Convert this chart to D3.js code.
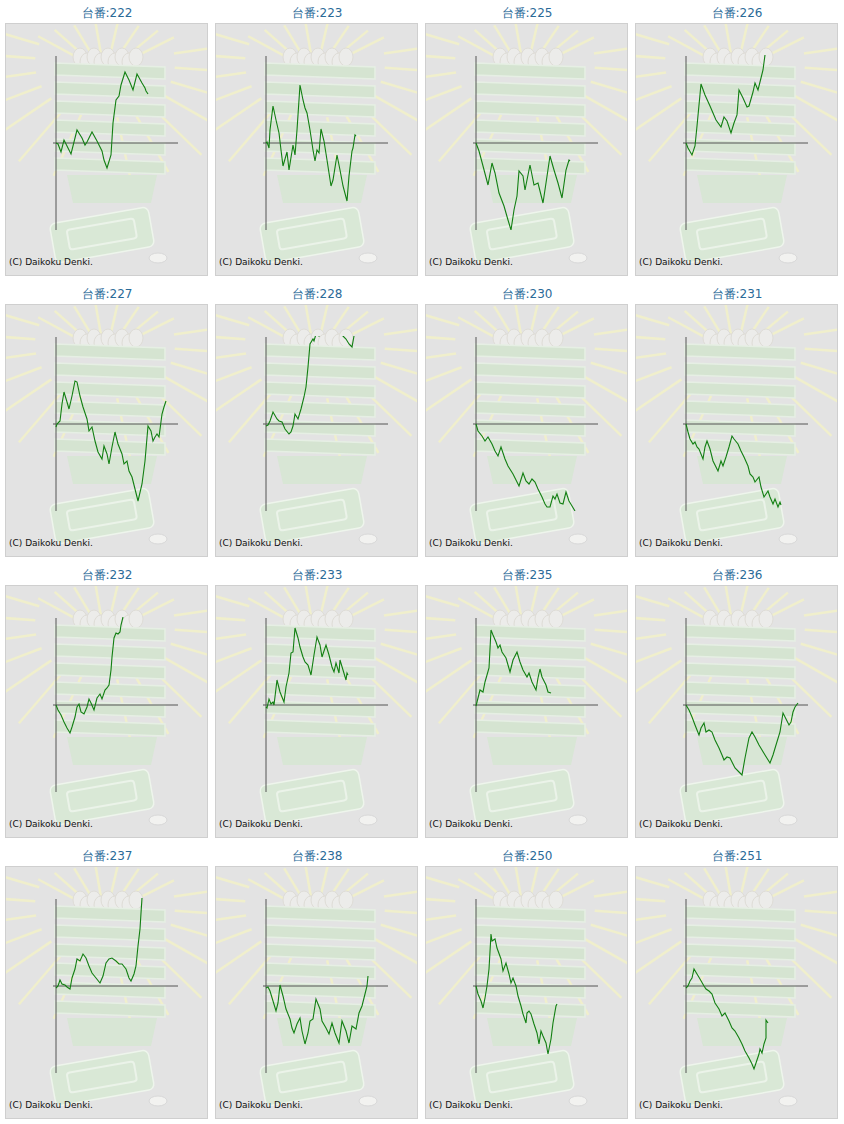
<!DOCTYPE html>
<html>
<head>
<meta charset="utf-8">
<script src="https://cdn.jsdelivr.net/npm/d3@7"></script>
<style>
body{margin:0;background:#fff;font-family:"DejaVu Sans",sans-serif;}
</style>
</head>
<body>
<svg id="chart" width="844" height="1124"></svg>
<script>
// machine numbers, one small chart each
var machines = ["222","223","225","226","227","228","230","231","232","233","235","236","237","238","250","251"]

// each series: [games, difference] (units of the chart scale)
var s222 = [[0,0],[2,-1],[5,-9],[8,3],[11,-3],[15,-11],[21,13],[26,5],[29,-2],[31,1],[36,11],[41,2],[46,-8],[48,-17],[51,-25],[55,-12],[57,20],[60,43],[63,47],[65,58],[69,71],[71,67],[73,63],[77,53],[81,69],[86,60],[89,55],[90,52],[92,49]]
var s223 = [[0,0],[1,1],[3,-5],[4,13],[7,37],[10,23],[13,10],[15,-7],[17,-23],[21,-9],[23,-27],[27,-2],[29,-12],[31,13],[34,58],[37,43],[39,35],[41,30],[44,13],[47,-7],[49,-18],[51,-7],[53,-10],[55,14],[58,2],[61,-17],[65,-43],[67,-37],[71,-12],[74,-27],[77,-43],[81,-58],[83,-33],[86,-8],[87,-5],[89,8],[90,7]]
var s225 = [[0,0],[3,-8],[7,-23],[12,-42],[16,-20],[19,-30],[23,-50],[28,-63],[32,-77],[35,-87],[38,-67],[41,-53],[43,-28],[47,-33],[49,-47],[54,-22],[58,-42],[62,-40],[67,-60],[70,-40],[74,-13],[78,-27],[82,-40],[86,-55],[90,-27],[93,-17],[94,-18]]
var s226 = [[0,0],[2,-5],[6,-12],[9,-3],[11,17],[15,59],[19,48],[24,37],[30,23],[35,16],[38,26],[41,22],[45,10],[48,20],[51,28],[53,53],[57,45],[61,36],[63,37],[67,51],[69,60],[72,53],[75,65],[77,73],[79,88]]
var s227 = [[0,-3],[1,0],[4,3],[6,20],[8,32],[11,22],[13,15],[16,28],[19,43],[21,42],[24,28],[27,17],[31,5],[33,-7],[36,-3],[39,-17],[42,-28],[46,-35],[48,-22],[51,-30],[53,-40],[56,-23],[59,-8],[62,-20],[66,-30],[68,-40],[71,-37],[73,-47],[76,-53],[79,-65],[82,-77],[86,-60],[89,-37],[92,-2],[95,-7],[97,-17],[99,-13],[101,-10],[103,-13],[106,10],[108,17],[110,23]]
var s228 = [[0,-2],[2,-1],[4,3],[7,12],[11,5],[13,3],[16,2],[19,-5],[23,-10],[25,-8],[27,-2],[29,10],[32,5],[35,15],[38,27],[40,37],[42,57],[44,80],[47,85],[48,83],[50,90],[53,88],[55,95],[62,100],[70,97],[73,92],[77,88],[80,85],[83,80],[86,77],[88,88]]
var s230 = [[0,0],[2,-7],[6,-12],[9,-17],[12,-13],[16,-20],[19,-27],[22,-32],[25,-23],[29,-35],[32,-42],[37,-50],[41,-58],[43,-62],[47,-49],[50,-57],[53,-60],[56,-55],[59,-58],[62,-65],[66,-73],[69,-80],[71,-83],[74,-83],[77,-72],[79,-75],[81,-70],[84,-79],[87,-80],[90,-68],[93,-77],[96,-82],[99,-87]]
var s231 = [[0,0],[2,-8],[4,-15],[7,-20],[9,-18],[11,-23],[13,-25],[17,-35],[19,-23],[21,-17],[24,-25],[27,-37],[32,-47],[35,-37],[37,-42],[40,-33],[43,-23],[46,-12],[48,-15],[52,-20],[55,-27],[58,-33],[62,-42],[64,-50],[67,-53],[69,-58],[73,-53],[75,-63],[78,-73],[82,-67],[84,-73],[87,-80],[89,-75],[92,-83],[94,-78],[95,-81]]
var s232 = [[0,0],[2,-5],[5,-10],[8,-17],[11,-23],[14,-28],[16,-22],[19,-12],[21,-2],[23,1],[25,-7],[28,-9],[31,-2],[33,6],[35,2],[38,-5],[41,7],[44,11],[46,6],[49,15],[51,17],[53,20],[55,35],[56,48],[58,67],[60,72],[62,71],[64,73],[65,80],[67,88]]
var s233 = [[0,-2],[1,-3],[3,6],[5,1],[7,3],[8,0],[11,25],[14,13],[18,3],[20,18],[23,32],[25,52],[27,53],[29,77],[32,67],[34,58],[37,48],[39,43],[42,40],[45,30],[48,50],[51,68],[54,60],[56,48],[60,60],[63,50],[66,38],[68,33],[70,42],[73,32],[74,45],[77,35],[80,25],[81,32],[82,30]]
var s235 = [[0,-1],[2,7],[4,15],[7,13],[9,23],[11,30],[13,37],[15,75],[17,70],[20,63],[22,57],[24,60],[26,53],[30,47],[32,40],[34,33],[37,45],[41,53],[44,43],[47,35],[51,28],[53,32],[56,23],[60,15],[62,27],[64,36],[66,28],[70,20],[72,13],[75,12]]
var s236 = [[0,0],[3,-5],[6,-12],[9,-20],[13,-30],[15,-23],[18,-18],[20,-27],[23,-25],[26,-27],[29,-35],[33,-43],[36,-50],[38,-55],[41,-52],[44,-53],[46,-57],[49,-63],[53,-67],[56,-70],[59,-53],[63,-33],[66,-27],[69,-32],[73,-40],[76,-45],[79,-50],[84,-58],[87,-50],[90,-40],[94,-27],[97,-8],[99,-12],[103,-20],[105,-17],[107,-7],[109,-2],[112,2]]
var s237 = [[0,-2],[2,0],[4,6],[6,2],[9,1],[11,-1],[14,-3],[16,8],[19,17],[21,27],[24,25],[27,32],[30,28],[33,20],[36,13],[40,8],[44,3],[47,10],[50,23],[53,27],[56,28],[60,25],[63,22],[66,22],[70,17],[73,8],[75,5],[78,12],[80,20],[82,40],[84,57],[85,73],[86,88]]
var s238 = [[0,-2],[2,-1],[4,-5],[7,-15],[10,-25],[12,-17],[14,1],[17,-10],[20,-23],[24,-33],[26,-42],[28,-47],[31,-38],[34,-32],[36,-45],[39,-58],[42,-47],[44,-35],[47,-33],[50,-13],[54,-23],[56,-35],[60,-42],[63,-48],[66,-37],[69,-47],[73,-57],[76,-35],[80,-45],[83,-57],[86,-40],[90,-43],[93,-27],[96,-20],[99,-8],[101,0],[102,10]]
var s250 = [[0,0],[2,-8],[5,-15],[7,-22],[9,-12],[11,0],[13,17],[15,52],[16,45],[19,47],[21,38],[25,27],[27,15],[30,23],[33,12],[35,3],[37,8],[40,0],[42,-10],[45,-20],[47,-28],[50,-37],[51,-27],[53,-25],[55,-28],[58,-38],[61,-47],[63,-58],[65,-45],[67,-50],[70,-57],[72,-68],[75,-53],[77,-37],[80,-20],[81,-18]]
var s251 = [[0,-2],[2,0],[4,5],[6,8],[8,17],[11,12],[14,7],[18,0],[20,-3],[23,-5],[26,-8],[29,-17],[33,-23],[36,-30],[39,-27],[43,-35],[46,-42],[49,-45],[53,-52],[56,-58],[59,-65],[63,-72],[66,-78],[68,-83],[70,-77],[73,-68],[74,-63],[76,-67],[78,-58],[80,-52],[80,-34],[82,-37]]

var series = [s222,s223,s225,s226,s227,s228,s230,s231,s232,s233,s235,s236,s237,s238,s250,s251]

var svg = d3.select("#chart")
var defs = svg.append("defs")
defs.append("clipPath").attr("id","boxclip")
	.append("rect").attr("x",1).attr("y",1).attr("width",201).attr("height",251)
defs.append("clipPath").attr("id","plotclip")
	.append("rect").attr("x",40).attr("y",32).attr("width",140).attr("height",175)

var x = d3.scaleLinear().domain([0,122]).range([51,173])
var y = d3.scaleLinear().domain([-87,87]).range([207,33])

var line = d3.line().x(function(d){return x(d[0])}).y(function(d){return y(d[1])})

function drawBackground(g){
	var bg = g.append("g").attr("clip-path","url(#boxclip)")
	bg.append("rect").attr("x",1).attr("y",1).attr("width",201).attr("height",251).attr("fill","#e3e3e3")
	// rays
	var cx = 100, cy = 40
	d3.range(-80, 260, 15).forEach(function(a){
		var r = a*Math.PI/180
		if (a > 20 && a < 160) return
		bg.append("line")
			.attr("x1", cx+Math.cos(r)*70).attr("y1", cy-Math.sin(r)*55)
			.attr("x2", cx+Math.cos(r)*150).attr("y2", cy-Math.sin(r)*120)
			.attr("stroke","#f0efcc").attr("stroke-width",2.5)
	})
	d3.range(40, 150, 14).forEach(function(a){
		var r = a*Math.PI/180
		bg.append("line")
			.attr("x1", cx+Math.cos(r)*40).attr("y1", cy-Math.sin(r)*10)
			.attr("x2", cx+Math.cos(r)*90).attr("y2", cy-Math.sin(r)*40)
			.attr("stroke","#f0efcc").attr("stroke-width",2.5)
	})
	// coin pile
	d3.range(0,9).forEach(function(i){
		bg.append("ellipse").attr("cx",75+i*7).attr("cy",34+(i%2)*5).attr("rx",7).attr("ry",9)
			.attr("fill","#ececea").attr("stroke","#dedcd6")
	})
	// stacked trays
	d3.range(0,6).forEach(function(i){
		bg.append("path")
			.attr("d","M50," + (40+i*19) + " L160," + (44+i*19) + " L160," + (56+i*19) + " L50," + (52+i*19) + " Z")
			.attr("fill","#d5e4d1").attr("stroke","#e6efe4").attr("stroke-width",1.5)
	})
	bg.append("path").attr("d","M62,152 L152,152 L146,180 L68,180 Z").attr("fill","#d8e6d5")
	// bottom tray
	bg.append("g").attr("transform","translate(97,212) rotate(-10)")
		.call(function(t){
			t.append("rect").attr("x",-50).attr("y",-20).attr("width",100).attr("height",40).attr("rx",6)
				.attr("fill","#d9e8d6").attr("stroke","#eef5ec").attr("stroke-width",1.5)
			t.append("rect").attr("x",-34).attr("y",-11).attr("width",68).attr("height",20).attr("rx",3)
				.attr("fill","none").attr("stroke","#ebf3e9").attr("stroke-width",2)
		})
	bg.append("ellipse").attr("cx",153).attr("cy",235).attr("rx",9).attr("ry",5)
		.attr("fill","#f2f2f0").attr("stroke","#d8d8d8")
}

machines.forEach(function(m, i){
	var col = i % 4, row = Math.floor(i / 4)
	var g = svg.append("g").attr("transform","translate(" + (5 + col*210) + "," + (23 + row*281) + ")")

	g.append("text").attr("x",102).attr("y",-6).attr("text-anchor","middle")
		.attr("font-size",12).attr("fill","#2b6a98").text("台番:" + m)

	g.append("rect").attr("x",0.5).attr("y",0.5).attr("width",202).attr("height",252)
		.attr("fill","#fff").attr("stroke","#cfcfcf")
	drawBackground(g)

	// axes
	g.append("line").attr("x1",x(0)).attr("x2",x(0)).attr("y1",y(87)).attr("y2",y(-87))
		.attr("stroke","#555").attr("stroke-width",1)
	g.append("line").attr("x1",x(-3)).attr("x2",x(122)).attr("y1",y(0)).attr("y2",y(0))
		.attr("stroke","#555").attr("stroke-width",1)

	g.append("path").datum(series[i]).attr("d",line).attr("clip-path","url(#plotclip)")
		.attr("fill","none").attr("stroke","#127f12").attr("stroke-width",1.1)

	g.append("text").attr("x",4).attr("y",242).attr("font-size",9).attr("fill","#111")
		.text("(C) Daikoku Denki.")
})
</script>
</body>
</html>
